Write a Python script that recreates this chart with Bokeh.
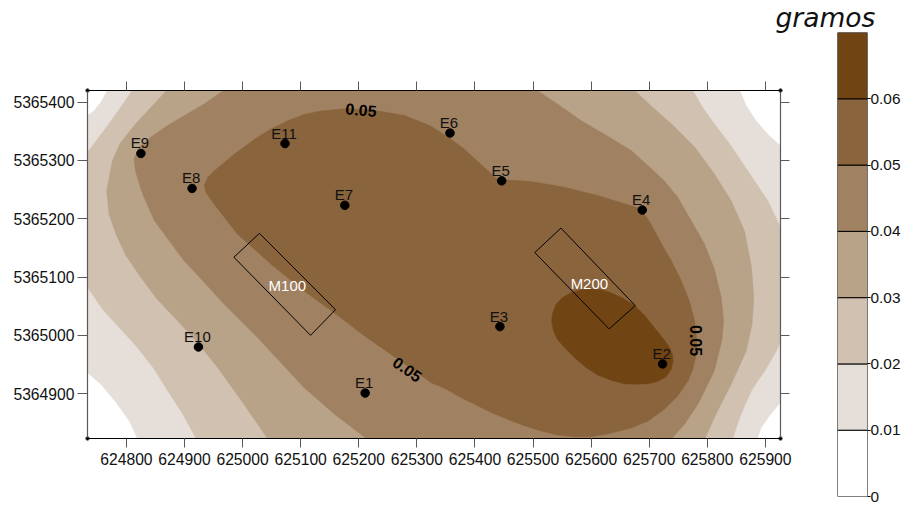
from bokeh.embed import file_html
from bokeh.resources import INLINE
from bokeh.plotting import figure
from bokeh.models import (ColumnDataSource, FixedTicker, LinearAxis, Title,
                          Range1d, NumeralTickFormatter)
from bokeh.core.properties import value

# ---- data (map coordinates, metres) ----
x_limits = [624733, 625926]
y_limits = [5364823, 5365420]
x_ticks = [624800, 624900, 625000, 625100, 625200, 625300, 625400, 625500, 625600, 625700, 625800, 625900]
y_ticks = [5364900, 5365000, 5365100, 5365200, 5365300, 5365400]

band_colors = ["#FFFFFF", "#E6DFD9", "#D0C1B1", "#B8A288", "#A08262", "#8A643C", "#714414"]
band_levels = [0, 0.01, 0.02, 0.03, 0.04, 0.05, 0.06, 0.07]
band_labels = ["0", "0.01", "0.02", "0.03", "0.04", "0.05", "0.06"]

g01_x = [624733, 624744, 624756, 624767, 625856, 625867, 625884, 625904, 625926, 625926, 625907, 625893, 625886, 624819, 624805, 624782, 624756, 624733]
g01_y = [5365377, 5365385, 5365400, 5365420, 5365420, 5365394, 5365368, 5365345, 5365325, 5364885, 5364862, 5364842, 5364823, 5364823, 5364853, 5364885, 5364916, 5364936]

g02_x = [624810, 624790, 624761, 624733, 624733, 624761, 624790, 624819, 624848, 624871, 624897, 624920, 625844, 625850, 625856, 625864, 625876, 625887, 625899, 625916, 625926, 625926, 625904, 625870, 625841, 625812, 625792, 625775]
g02_y = [5365420, 5365391, 5365351, 5365314, 5365082, 5365042, 5365011, 5364979, 5364942, 5364905, 5364865, 5364823, 5364823, 5364842, 5364859, 5364879, 5364905, 5364922, 5364939, 5364968, 5364988, 5365185, 5365231, 5365282, 5365325, 5365363, 5365391, 5365420]

g03_x = [624869, 624842, 624816, 624790, 624776, 624766, 624770, 624782, 624799, 624825, 624853, 624888, 624922, 624957, 625000, 625043, 625796, 625815, 625841, 625867, 625877, 625880, 625876, 625864, 625841, 625812, 625778, 625738, 625706, 625675]
g03_y = [5365420, 5365391, 5365363, 5365331, 5365300, 5365248, 5365208, 5365174, 5365137, 5365099, 5365062, 5365025, 5364988, 5364945, 5364885, 5364823, 5364823, 5364865, 5364916, 5364973, 5365019, 5365065, 5365117, 5365179, 5365231, 5365277, 5365323, 5365363, 5365391, 5365420]

g04_x = [624967, 624934, 624905, 624871, 624842, 624822, 624813, 624816, 624828, 624848, 624874, 624899, 624931, 624963, 624994, 625026, 625066, 625106, 625158, 625213, 625739, 625761, 625784, 625812, 625825, 625828, 625824, 625812, 625795, 625772, 625749, 625726, 625698, 625669, 625623, 625583, 625542, 625507]
g04_y = [5365420, 5365397, 5365380, 5365360, 5365340, 5365323, 5365303, 5365280, 5365242, 5365197, 5365162, 5365128, 5365094, 5365059, 5365028, 5364996, 5364953, 5364910, 5364865, 5364823, 5364823, 5364848, 5364882, 5364939, 5364991, 5365025, 5365065, 5365114, 5365157, 5365197, 5365237, 5365265, 5365291, 5365317, 5365345, 5365368, 5365397, 5365420]

g05_x = [624934, 624940, 624951, 624986, 625026, 625049, 625078, 625106, 625135, 625181, 625233, 625279, 625324, 625358, 625381, 625416, 625439, 625462, 625496, 625554, 625611, 625686, 625703, 625721, 625738, 625755, 625769, 625778, 625782, 625781, 625775, 625767, 625749, 625726, 625698, 625669, 625634, 625600, 625571, 625542, 625514, 625485, 625456, 625427, 625399, 625376, 625350, 625324, 625302, 625279, 625250, 625210, 625164, 625106, 625049, 624991, 624951, 624937]
g05_y = [5365257, 5365271, 5365282, 5365311, 5365340, 5365354, 5365368, 5365379, 5365385, 5365389, 5365385, 5365377, 5365359, 5365337, 5365320, 5365288, 5365268, 5365266, 5365264, 5365254, 5365240, 5365217, 5365191, 5365157, 5365128, 5365094, 5365059, 5365025, 5364991, 5364968, 5364942, 5364922, 5364896, 5364873, 5364853, 5364841, 5364832, 5364826, 5364826, 5364829, 5364836, 5364845, 5364856, 5364868, 5364882, 5364893, 5364908, 5364919, 5364935, 5364951, 5364971, 5364999, 5365034, 5365076, 5365122, 5365174, 5365225, 5365245]

g06_x = [625532, 625534, 625540, 625551, 625565, 625583, 625600, 625617, 625634, 625654, 625675, 625692, 625709, 625723, 625735, 625740, 625741, 625738, 625729, 625715, 625698, 625677, 625657, 625634, 625611, 625591, 625571, 625554, 625542, 625535]
g06_y = [5365025, 5365039, 5365054, 5365065, 5365073, 5365078, 5365079, 5365078, 5365073, 5365064, 5365051, 5365034, 5365013, 5364996, 5364979, 5364967, 5364956, 5364942, 5364929, 5364921, 5364917, 5364916, 5364917, 5364923, 5364932, 5364945, 5364962, 5364979, 5364993, 5365008]

station_names = ["E1", "E2", "E3", "E4", "E5", "E6", "E7", "E8", "E9", "E10", "E11"]
station_x = [625211, 625723, 625443, 625688, 625446, 625357, 625176, 624913, 624825, 624924, 625073]
station_y = [5364901, 5364951, 5365015, 5365215, 5365265, 5365347, 5365223, 5365252, 5365312, 5364980, 5365329]

m100_x = [625029, 625160, 625117, 624985]
m100_y = [5365175, 5365044, 5365000, 5365134]
m200_x = [625548, 625676, 625631, 625503]
m200_y = [5365184, 5365051, 5365011, 5365142]

plot_names = ["M100", "M200"]
plot_name_x = [625077, 625597]
plot_name_y = [5365085, 5365089]

contour_text = ["0.05", "0.05", "0.05"]
contour_x = [625204, 625284, 625780]
contour_y = [5365387, 5364942, 5364991]
contour_angle = [-5, -35, -90]

FONT = "Liberation Sans"
GREY = "#5a5a5a"

# ---- map ----
p = figure(output_backend="svg", toolbar_location=None,
           x_range=Range1d(*x_limits), y_range=Range1d(*y_limits),
           width=800, height=490,
           frame_width=693, frame_height=348,
           min_border_left=87, min_border_top=90, min_border_right=20, min_border_bottom=52,
           x_axis_location="below", y_axis_location="left",
           background_fill_color="#FFFFFF", outline_line_color=None)
p.grid.visible = False

top_axis = LinearAxis()
right_axis = LinearAxis()
p.add_layout(top_axis, "above")
p.add_layout(right_axis, "right")
bottom_axis = p.below[0]
left_axis = p.left[0]

for ax, ticks, limits, color in [(bottom_axis, x_ticks, x_limits, "#000000"),
                                 (top_axis, x_ticks, x_limits, "#000000"),
                                 (left_axis, y_ticks, y_limits, GREY),
                                 (right_axis, y_ticks, y_limits, GREY)]:
    ax.ticker = FixedTicker(ticks=ticks, minor_ticks=limits)
    ax.major_tick_out = 9
    ax.major_tick_in = 0
    ax.minor_tick_out = 2
    ax.minor_tick_in = 2
    ax.minor_tick_line_color = "#000000"
    ax.minor_tick_line_width = 2
    ax.axis_line_color = color
    ax.axis_line_width = 1.2
    ax.major_tick_line_color = GREY
    ax.formatter = NumeralTickFormatter(format="0")
    ax.major_label_text_font = FONT
    ax.major_label_text_font_size = "15.7px"
    ax.major_label_text_color = "#111111"

bottom_axis.major_label_standoff = 5
left_axis.major_tick_out = 10
left_axis.major_label_standoff = 3
left_axis.major_label_orientation = "horizontal"
top_axis.major_label_overrides = {t: "" for t in x_ticks}
right_axis.major_label_overrides = {t: "" for t in y_ticks}

bands = [(g01_x, g01_y), (g02_x, g02_y), (g03_x, g03_y), (g04_x, g04_y), (g05_x, g05_y), (g06_x, g06_y)]
for (bx, by), col in zip(bands, band_colors[1:]):
    p.patch(bx, by, fill_color=col, line_color=col, line_width=0.5)

for rx, ry in [(m100_x, m100_y), (m200_x, m200_y)]:
    p.patch(rx, ry, fill_alpha=0, line_color="#000000", line_width=1)

st = ColumnDataSource(dict(x=station_x, y=station_y, name=station_names))
p.scatter("x", "y", source=st, size=8.5, color="#000000")
p.text("x", "y", text="name", source=st, text_font=value(FONT), text_font_size="15px",
       text_align="center", text_baseline="bottom", x_offset=-1, y_offset=-2, text_color="#111111")

pn = ColumnDataSource(dict(x=plot_name_x, y=plot_name_y, name=plot_names))
p.text("x", "y", text="name", source=pn, text_font=value(FONT), text_font_size="15px",
       text_align="center", text_baseline="middle", text_color="#FFFFFF")

cl = ColumnDataSource(dict(x=contour_x, y=contour_y, t=contour_text,
                           a=[v * 3.14159265 / 180 for v in contour_angle]))
p.text("x", "y", text="t", angle="a", source=cl, text_font=value(FONT), text_font_size="16px",
       text_font_style="bold", text_align="center", text_baseline="middle", text_color="#000000")

# ---- legend ----
q = figure(output_backend="svg", toolbar_location=None,
           x_range=Range1d(0, 1), y_range=Range1d(band_levels[0], band_levels[-1]),
           width=135, height=505,
           frame_width=30, frame_height=464,
           min_border_left=67, min_border_right=38, min_border_top=32, min_border_bottom=9,
           x_axis_location=None, y_axis_location="right",
           outline_line_color=None, border_fill_alpha=0, background_fill_alpha=0,
           margin=(-491, 0, 0, 770),
           title=Title(text="gramos", align="left", offset=-62, standoff=0,
                       text_font="DejaVu Sans", text_font_style="italic",
                       text_font_size="26.5px", text_color="#111111"))
q.grid.visible = False
q.quad(left=0, right=1, bottom=band_levels[:-1], top=band_levels[1:], fill_color=band_colors,
       line_color="#000000", line_width=1)

ax = q.right[0]
ax.ticker = FixedTicker(ticks=band_levels[:-1])
ax.major_label_overrides = {lv: lab for lv, lab in zip(band_levels[:-1], band_labels)}
ax.axis_line_color = None
ax.major_tick_out = 3
ax.major_tick_in = 0
ax.major_tick_line_color = "#000000"
ax.minor_tick_line_color = None
ax.major_label_standoff = 0
ax.major_label_text_font = FONT
ax.major_label_text_font_size = "15.4px"
ax.major_label_text_color = "#111111"

open("out.html", "w").write(file_html([p, q], INLINE))
